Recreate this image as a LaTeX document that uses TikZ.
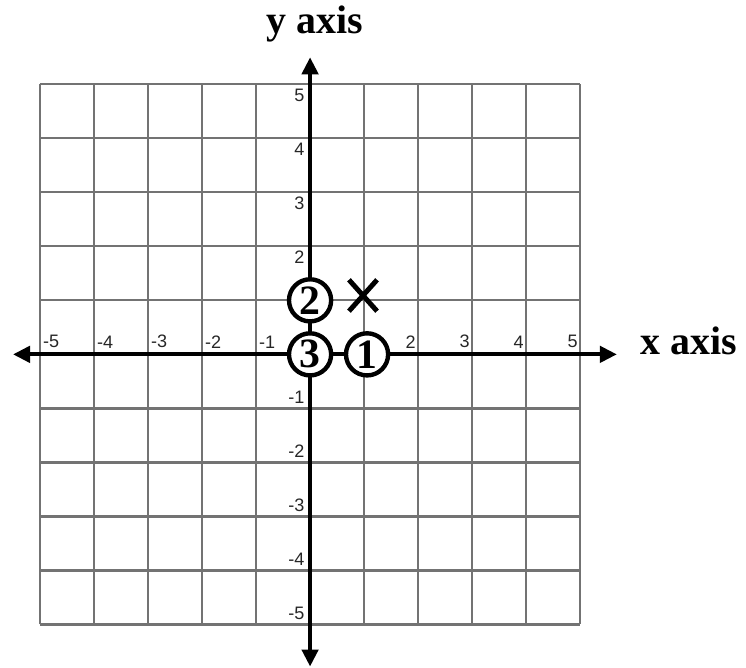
\documentclass[tikz,border=0pt]{standalone}
\usepackage{fontspec}
\setmainfont{Liberation Serif}
\setsansfont{Liberation Sans}
\usetikzlibrary{arrows.meta}

\begin{document}
\begin{tikzpicture}[
  axisline/.style={line width=2.2pt, {Triangle[length=9pt,width=8.5pt]}-{Triangle[length=9pt,width=8.5pt]}},
  ticklab/.style={font=\sffamily\fontsize{9.5}{11}\selectfont, inner sep=0pt, text=black!85},
  spot/.style={circle, draw, line width=2.3pt, fill=white, minimum size=0.78cm, inner sep=0pt, font=\bfseries\fontsize{22}{24}\selectfont},
  axislab/.style={font=\bfseries\fontsize{21}{24}\selectfont, inner sep=0pt}]
  \useasboundingbox (-5.74,-5.8) rectangle (8.07,6.56);
  \draw[black!55, line width=1.2pt] (-5,-5) grid (5,5);
  \draw[axisline] (-5.5,0) -- (5.68,0);
  \draw[axisline] (0,-5.78) -- (0,5.5);
  % tick numbers
  \foreach \x in {-5,...,-1}
    {\node[ticklab, anchor=south west] (xl\x) at (\x+0.05,0.11) {\x};}
  \foreach \x in {2,...,5}
    {\node[ticklab, anchor=south east] (xl\x) at (\x-0.04,0.11) {\x};}
  \foreach \y in {2,...,5}
    {\node[ticklab, anchor=north east] (yl\y) at (-0.1,\y-0.08) {\y};}
  \foreach \y in {-5,...,-1}
    {\node[ticklab, anchor=south east] (yl\y) at (-0.1,\y+0.09) {\y};}
  \node[axislab, anchor=base west] (xname) at (6.11,0) {x axis};
  \node[axislab, anchor=base] (yname) at (0.09,5.94) {y axis};
  % marked points
  \node[spot] (one) at (1.055,0) {1};
  \node[spot] (two) at (0,1) {2};
  \node[spot] (three) at (0,0) {3};
  \coordinate (mark) at (0.98,1.09);
  \draw[line width=2.6pt] ([shift={(-0.26,-0.29)}]mark) -- ([shift={(0.26,0.29)}]mark);
  \draw[line width=2.6pt] ([shift={(-0.26,0.29)}]mark) -- ([shift={(0.26,-0.29)}]mark);
\end{tikzpicture}
\end{document}
